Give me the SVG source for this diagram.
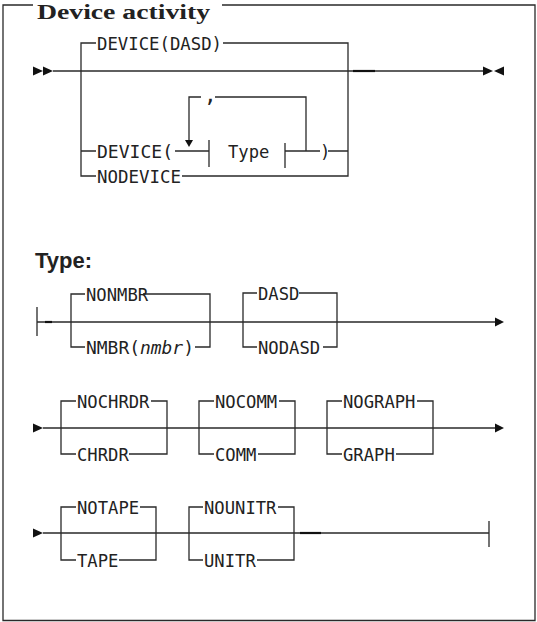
<svg xmlns="http://www.w3.org/2000/svg" width="537" height="622" viewBox="0 0 537 622">
<style>
.ln{fill:none;stroke:#2a2a2a;stroke-width:1.3}
.thk{fill:none;stroke:#111;stroke-width:2.2}
.ah{fill:#111}
.t{font-family:"DejaVu Sans Mono","Liberation Mono",monospace;font-size:17.2px;fill:#222}
.it{font-style:italic}
.title{font-family:"Liberation Serif","DejaVu Serif",serif;font-weight:bold;font-size:20px;fill:#222}
.sub{font-family:"Liberation Sans",Arial,sans-serif;font-weight:bold;font-size:22px;fill:#222}
</style>
<rect width="537" height="622" fill="#fff"/>
<g id="frame">
<path class="ln" d="M33 5 H3 V620.5 H535 V5 H222" stroke-width="1.5"/>
<text class="title" x="37" y="19" textLength="173" lengthAdjust="spacingAndGlyphs">Device activity</text>
<text class="sub" x="35" y="268">Type:</text>
</g>
<g id="connectors">
<!-- section 1 -->
<polygon class="ah" points="33,66.5 43,71 33,75.5"/>
<polygon class="ah" points="43,66.5 53,71 43,75.5"/>
<path class="ln" d="M53 71 H483"/>
<polygon class="ah" points="483,66.5 493,71 483,75.5"/>
<polygon class="ah" points="504,66.5 494,71 504,75.5"/>
<path class="thk" d="M353 71 H375"/>
<path class="ln" d="M96 43 H81 V176 H96 M81 151 H96"/>
<path class="ln" d="M223 43 H348 V176 H182 M328 151 H348"/>
<path class="ln" d="M175 151 H209 M209 140 V167"/>
<path class="ln" d="M201 97 H189 V141"/>
<polygon class="ah" points="185,140 193,140 189,147"/>
<path class="ln" d="M215 97 H306 V151"/>
<path class="ln" d="M285 143 V168 M285 151 H320"/>
<!-- row 1 -->
<path class="ln" d="M37 307 V336 M37 322 H495"/>
<path class="thk" d="M45 322 H52"/>
<polygon class="ah" points="495,317.5 504,322 495,326.5"/>
<path class="ln" d="M85 294 H71 V347 H85 M143 294 H210 V347 H195"/>
<path class="ln" d="M257 293 H243 V347 H257 M299 293 H337 V347 H323"/>
<!-- row 2 -->
<polygon class="ah" points="33,423.5 43,428 33,432.5"/>
<path class="ln" d="M43 428 H495"/>
<polygon class="ah" points="495,423.5 504,428 495,432.5"/>
<path class="ln" d="M76 401 H61 V454 H76 M151 401 H167 V454 H129"/>
<path class="ln" d="M214 401 H199 V454 H214 M279 401 H295 V454 H258"/>
<path class="ln" d="M342 401 H327 V454 H342 M417 401 H433 V454 H396"/>
<!-- row 3 -->
<polygon class="ah" points="33,528.5 43,533 33,537.5"/>
<path class="ln" d="M43 533 H489 M489 521 V547"/>
<path class="thk" d="M300 533 H321"/>
<path class="ln" d="M76 507 H61 V560 H76 M140 507 H156 V560 H119"/>
<path class="ln" d="M203 507 H189 V560 H203 M278 507 H294 V560 H257"/>
</g>
<g id="n-device-dasd"><text class="t" x="97" y="49.5" textLength="125" lengthAdjust="spacingAndGlyphs">DEVICE(DASD)</text></g>
<g id="n-device-open"><text class="t" x="97" y="157.5" textLength="76" lengthAdjust="spacingAndGlyphs">DEVICE(</text></g>
<g id="n-type-ref"><text class="t" x="228" y="157.5">Type</text></g>
<g id="n-close"><text class="t" x="320" y="157.5">)</text></g>
<g id="n-comma"><text class="t" x="204" y="102" style="font-size:21px">,</text></g>
<g id="n-nodevice"><text class="t" x="97" y="182.5" textLength="84" lengthAdjust="spacingAndGlyphs">NODEVICE</text></g>
<g id="n-nonmbr"><text class="t" x="86" y="300.5">NONMBR</text></g>
<g id="n-nmbr"><text class="t" x="86" y="353.5" textLength="108" lengthAdjust="spacingAndGlyphs">NMBR(<tspan class="it">nmbr</tspan>)</text></g>
<g id="n-dasd"><text class="t" x="258" y="299.5">DASD</text></g>
<g id="n-nodasd"><text class="t" x="258" y="353.5">NODASD</text></g>
<g id="n-nochrdr"><text class="t" x="77" y="407.5">NOCHRDR</text></g>
<g id="n-chrdr"><text class="t" x="77" y="460.5">CHRDR</text></g>
<g id="n-nocomm"><text class="t" x="215" y="407.5">NOCOMM</text></g>
<g id="n-comm"><text class="t" x="215" y="460.5">COMM</text></g>
<g id="n-nograph"><text class="t" x="343" y="407.5">NOGRAPH</text></g>
<g id="n-graph"><text class="t" x="343" y="460.5">GRAPH</text></g>
<g id="n-notape"><text class="t" x="77" y="513.5">NOTAPE</text></g>
<g id="n-tape"><text class="t" x="77" y="566.5">TAPE</text></g>
<g id="n-nounitr"><text class="t" x="204" y="513.5">NOUNITR</text></g>
<g id="n-unitr"><text class="t" x="204" y="566.5">UNITR</text></g>
</svg>
